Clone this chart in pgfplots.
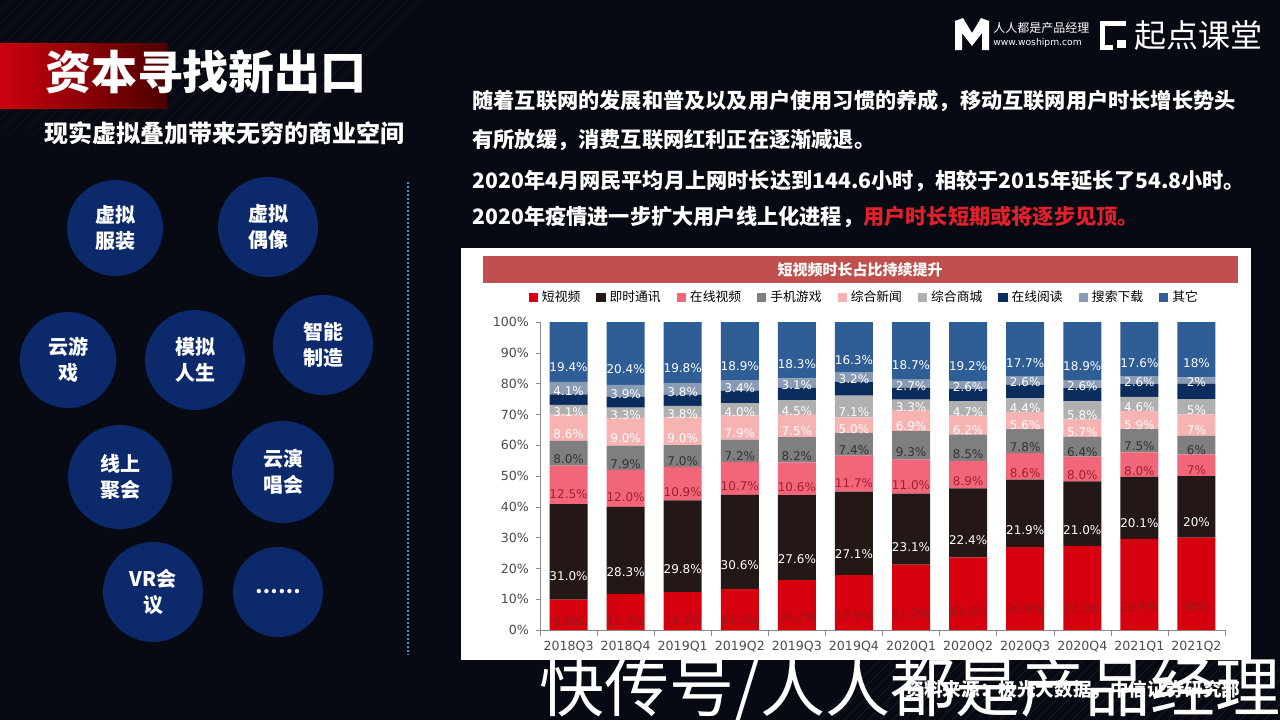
\documentclass[border=0pt]{standalone}
\usepackage{pgfplots}
\pgfplotsset{compat=1.18}
\usepackage{fontspec}
\setmainfont{DejaVu Sans}
\newfontfamily\cjk{Noto Sans CJK SC}

\definecolor{bg}{HTML}{070A13}
\definecolor{circ}{HTML}{0C2A6B}
\definecolor{dotb}{HTML}{2E9BD6}
\definecolor{hl}{HTML}{E0202A}
\definecolor{band}{HTML}{C0504D}
\definecolor{c1}{HTML}{D7000F}
\definecolor{c2}{HTML}{231816}
\definecolor{c3}{HTML}{F2667A}
\definecolor{c4}{HTML}{7F7F7F}
\definecolor{c5}{HTML}{F7B2B2}
\definecolor{c6}{HTML}{B0B0B0}
\definecolor{c7}{HTML}{0B2D5E}
\definecolor{c8}{HTML}{8A9BB5}
\definecolor{c9}{HTML}{2F5E97}
\definecolor{l1}{HTML}{8E1B1B}
\definecolor{l3}{HTML}{A3202F}
\definecolor{l4}{HTML}{333333}

\pgfplotsset{
  sq/.style={fill=#1, draw=none,
    legend image code/.code={\fill[#1] (0pt,-2.3pt) rectangle (4.6pt,2.3pt);}},
  % the shift is applied twice by pgfplots, so half of the half-segment here
  lab/.style={nodes near coords={\pgfplotspointmeta\%},
    point meta=explicit symbolic, nodes near coords align=center,
    every node near coord/.append style={text=#1, inner sep=0pt,
      font=\fontsize{6}{7}\selectfont, yshift={-0.385pt*\pgfplotspointmeta}}},
}

\begin{document}
\begin{tikzpicture}[x=0.5pt,y=-0.5pt]
\useasboundingbox (0,0) rectangle (1280,720);
\fill[bg] (0,0) rectangle (1280,720);
% faint stripes
\foreach \i in {0,12,...,420} {\draw[white, opacity=0.05] (\i-130,130) -- (\i,0);}
\foreach \i in {880,892,...,1330} {\draw[white, opacity=0.07] (\i-60,720) -- (\i,660);}

% title block
\shade[left color=c1!95!black, right color=red!30!black] (0,43) rectangle (167,108);
\node[text=white, font=\cjk\bfseries\fontsize{23}{26}\selectfont] at (206,72) {资本寻找新出口};
\node[text=white, font=\cjk\bfseries\fontsize{12}{14}\selectfont] at (224,133) {现实虚拟叠加带来无穷的商业空间};

% circles
\foreach \cx/\cy/\r/\t in {115/228/24/{虚拟\\服装}, 268/227/25/{虚拟\\偶像}, 68/360/24/{云游\\戏},
  195/360/25/{模拟\\人生}, 323/345/25/{智能\\制造}, 120/477/26/{线上\\聚会},
  283/472/25.5/{云演\\唱会}, 153/592/25/{VR会\\议}, 278/592/22.5/{……}} {
  \fill[circ] (\cx,\cy) circle[radius=\r pt];
  \node[text=white, align=center, font=\cjk\bfseries\fontsize{10}{13}\selectfont] at (\cx,\cy) {\t};
}
\draw[dotb, line width=1pt, dash pattern=on 1pt off 1pt] (408,182) -- (408,655);

% paragraph
\begin{scope}[every node/.style={anchor=west, text=white, inner sep=0pt, font=\cjk\bfseries\fontsize{10.6}{12}\selectfont}]
\node at (472,101) {随着互联网的发展和普及以及用户使用习惯的养成，移动互联网用户时长增长势头};
\node at (472,140) {有所放缓，消费互联网红利正在逐渐减退。};
\node at (472,181) {2020年4月网民平均月上网时长达到144.6小时，相较于2015年延长了54.8小时。};
\node at (472,217) {2020年疫情进一步扩大用户线上化进程，\textcolor{hl}{用户时长短期或将逐步见顶。}};
\end{scope}

% logos
\fill[white] (955,50) -- (955,21) -- (963,18) -- (972,33) -- (981,18) -- (989,21) -- (989,50)
  -- (982,50) -- (982,33) -- (972,46) -- (962,33) -- (962,50) -- cycle;
\node[anchor=west, text=white, font=\cjk\fontsize{6}{7}\selectfont, inner sep=0pt] at (993,28) {人人都是产品经理};
\node[anchor=west, text=white, font=\fontsize{4.6}{6}\selectfont, inner sep=0pt] at (993,43) {www.woshipm.com};
\draw[white, line width=2.5pt] (1126,23) -- (1102,23) -- (1102,47) -- (1113,47);
\fill[white] (1117,40) rectangle (1126,48);
\node[anchor=west, text=white, font=\cjk\fontsize{16}{18}\selectfont, inner sep=0pt] at (1134,35) {起点课堂};

% chart panel
\fill[white] (461,248) rectangle (1251,660);
\fill[band] (483,256) rectangle (1238,283);
\node[text=white, font=\cjk\bfseries\fontsize{7.5}{9}\selectfont] at (860,269.5) {短视频时长占比持续提升};

\begin{axis}[
  at={(270pt,-315pt)}, anchor=south west,
  scale only axis, width=342.5pt, height=154pt,
  ybar stacked, bar width=19pt,
  xmin=-0.5, xmax=11.5, ymin=0, ymax=100,
  axis x line*=bottom, axis y line*=left,
  axis line style={-, draw=black!45},
  xtick={0,...,11},
  xticklabels={2018Q3,2018Q4,2019Q1,2019Q2,2019Q3,2019Q4,2020Q1,2020Q2,2020Q3,2020Q4,2021Q1,2021Q2},
  major x tick style={draw=none},
  minor xtick={-0.5,0.5,...,11.5},
  minor x tick style={draw=black!45},
  ytick={0,10,...,100},
  yticklabels={0\%,10\%,20\%,30\%,40\%,50\%,60\%,70\%,80\%,90\%,100\%},
  y tick style={draw=black!45},
  tick align=outside, major tick length=2pt, minor tick length=3pt,
  tick label style={font=\fontsize{6.3}{7}\selectfont, text=black!70},
  legend columns=9,
  legend style={at={(0.475,1.08)}, anchor=center, draw=none, fill=none,
    font=\cjk\fontsize{6.4}{7}\selectfont, inner sep=0pt,
    /tikz/every even column/.append style={column sep=6pt}},
]
\addplot[sq=c1, lab=l1] coordinates {(0,9.9)[9.9] (1,11.7)[11.7] (2,12.3)[12.3] (3,13.3)[13.3] (4,16.2)[16.2] (5,17.8)[17.8] (6,21.2)[21.2] (7,23.6)[23.6] (8,26.9)[26.9] (9,27.3)[27.3] (10,29.6)[29.6] (11,30)[30]};
\addlegendentry{短视频}
\addplot[sq=c2, lab=white] coordinates {(0,31.0)[31.0] (1,28.3)[28.3] (2,29.8)[29.8] (3,30.6)[30.6] (4,27.6)[27.6] (5,27.1)[27.1] (6,23.1)[23.1] (7,22.4)[22.4] (8,21.9)[21.9] (9,21.0)[21.0] (10,20.1)[20.1] (11,20)[20]};
\addlegendentry{即时通讯}
\addplot[sq=c3, lab=l3] coordinates {(0,12.5)[12.5] (1,12.0)[12.0] (2,10.9)[10.9] (3,10.7)[10.7] (4,10.6)[10.6] (5,11.7)[11.7] (6,11.0)[11.0] (7,8.9)[8.9] (8,8.6)[8.6] (9,8.0)[8.0] (10,8.0)[8.0] (11,7)[7]};
\addlegendentry{在线视频}
\addplot[sq=c4, lab=l4] coordinates {(0,8.0)[8.0] (1,7.9)[7.9] (2,7.0)[7.0] (3,7.2)[7.2] (4,8.2)[8.2] (5,7.4)[7.4] (6,9.3)[9.3] (7,8.5)[8.5] (8,7.8)[7.8] (9,6.4)[6.4] (10,7.5)[7.5] (11,6)[6]};
\addlegendentry{手机游戏}
\addplot[sq=c5, lab=white] coordinates {(0,8.6)[8.6] (1,9.0)[9.0] (2,9.0)[9.0] (3,7.9)[7.9] (4,7.5)[7.5] (5,5.0)[5.0] (6,6.9)[6.9] (7,6.2)[6.2] (8,5.6)[5.6] (9,5.7)[5.7] (10,5.9)[5.9] (11,7)[7]};
\addlegendentry{综合新闻}
\addplot[sq=c6, lab=white] coordinates {(0,3.1)[3.1] (1,3.3)[3.3] (2,3.8)[3.8] (3,4.0)[4.0] (4,4.5)[4.5] (5,7.1)[7.1] (6,3.3)[3.3] (7,4.7)[4.7] (8,4.4)[4.4] (9,5.8)[5.8] (10,4.6)[4.6] (11,5)[5]};
\addlegendentry{综合商城}
\addplot[sq=c7] coordinates {(0,3.4) (1,3.5) (2,3.6) (3,4.0) (4,4.0) (5,4.4) (6,3.8) (7,3.9) (8,4.5) (9,4.3) (10,4.1) (11,5)};
\addlegendentry{在线阅读}
\addplot[sq=c8, lab=white] coordinates {(0,4.1)[4.1] (1,3.9)[3.9] (2,3.8)[3.8] (3,3.4)[3.4] (4,3.1)[3.1] (5,3.2)[3.2] (6,2.7)[2.7] (7,2.6)[2.6] (8,2.6)[2.6] (9,2.6)[2.6] (10,2.6)[2.6] (11,2)[2]};
\addlegendentry{搜索下载}
\addplot[sq=c9, lab=white] coordinates {(0,19.4)[19.4] (1,20.4)[20.4] (2,19.8)[19.8] (3,18.9)[18.9] (4,18.3)[18.3] (5,16.3)[16.3] (6,18.7)[18.7] (7,19.2)[19.2] (8,17.7)[17.7] (9,18.9)[18.9] (10,17.6)[17.6] (11,18)[18]};
\addlegendentry{其它}
\end{axis}

% source and overlay
\node[text=white, font=\cjk\bfseries\fontsize{9.3}{11}\selectfont] at (1073,690) {资料来源：极光大数据，中信证券研究部};
\node[text=white, font=\cjk\fontsize{32.5}{40}\selectfont, inner sep=0pt] at (910,690) {快传号/人人都是产品经理};
\end{tikzpicture}
\end{document}
